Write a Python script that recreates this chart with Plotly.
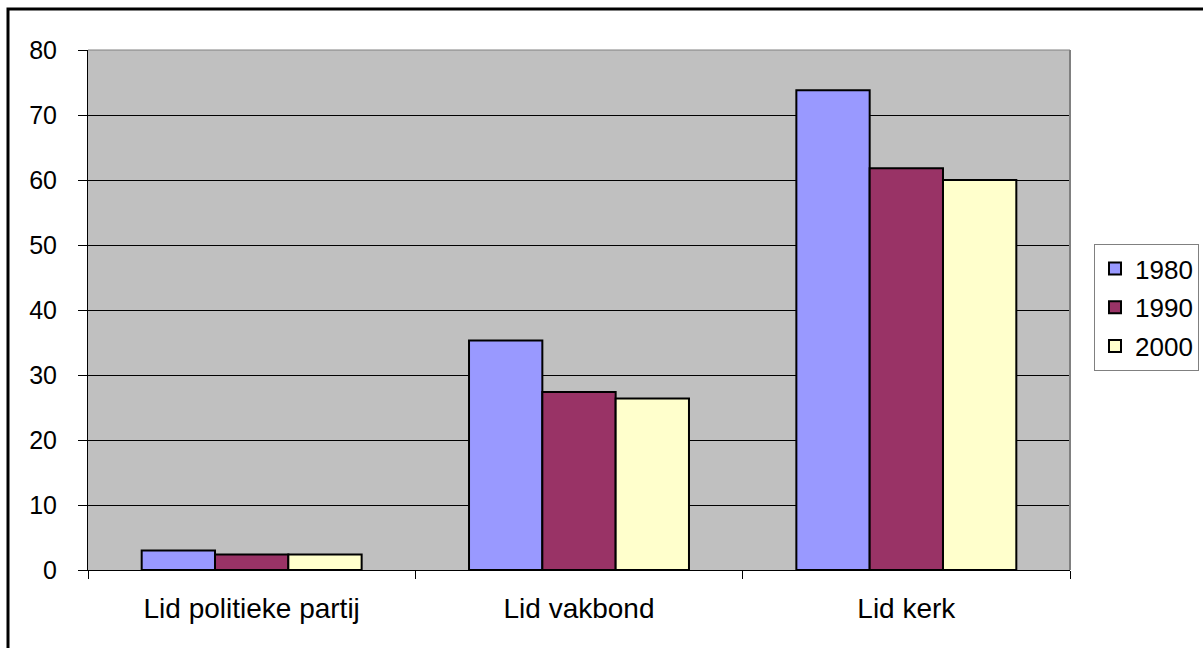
import plotly.graph_objects as go

# Membership shares (%) by organisation type and survey year
categories = ["Lid politieke partij", "Lid vakbond", "Lid kerk"]
years = ["1980", "1990", "2000"]
values_1980 = [3.0, 35.3, 73.8]
values_1990 = [2.4, 27.4, 61.8]
values_2000 = [2.4, 26.4, 60.0]
y_ticks = [0, 10, 20, 30, 40, 50, 60, 70, 80]

series = [values_1980, values_1990, values_2000]
colors = ["#9999FF", "#993366", "#FFFFCC"]

FONT = "Liberation Sans, Arial, sans-serif"

fig = go.Figure()
for year, vals, col in zip(years, series, colors):
    fig.add_trace(go.Bar(
        name=year, x=categories, y=vals,
        marker=dict(color=col, line=dict(color="black", width=2)),
        legendgroup=year,
    ))

W, H = 1203, 648
ml, mr, mt, mb = 88, 133, 50, 78
pw, ph = W - ml - mr, H - mt - mb

def px_x(x):
    return (x - ml) / pw

def px_y(y):
    return (H - mb - y) / ph

fig.update_layout(
    width=W, height=H,
    margin=dict(l=ml, r=mr, t=mt, b=mb, autoexpand=False),
    paper_bgcolor="white",
    plot_bgcolor="#C0C0C0",
    barmode="group",
    bargap=0.328,
    bargroupgap=0,
    font=dict(family=FONT, size=25, color="black"),
    legend=dict(
        x=px_x(1094), xanchor="left",
        y=px_y(244), yanchor="top",
        bordercolor="#808080", borderwidth=1,
        bgcolor="white",
        font=dict(size=26),
        tracegroupgap=2,
    ),
    xaxis=dict(
        type="category",
        showgrid=False,
        showline=True, linecolor="black", linewidth=1,
        ticks="outside", tickson="boundaries", ticklen=8, tickcolor="black",
        tickfont=dict(size=28),
        ticklabelstandoff=13,
    ),
    yaxis=dict(
        range=[0, 80],
        tickvals=y_ticks,
        showgrid=True, gridcolor="black", gridwidth=1,
        zeroline=False,
        showline=True, linecolor="black", linewidth=1,
        ticks="outside", ticklen=9, tickcolor="black",
        tickfont=dict(size=25),
        ticklabelstandoff=16,
    ),
    shapes=[
        # plot-area frame on top and right
        dict(type="line", xref="paper", yref="paper", x0=0, x1=1, y0=1, y1=1,
             line=dict(color="#808080", width=1)),
        dict(type="line", xref="paper", yref="paper", x0=1, x1=1, y0=0, y1=1,
             line=dict(color="#808080", width=2)),
        # outer chart border
        dict(type="rect", xref="paper", yref="paper",
             x0=px_x(8), x1=px_x(1215), y0=px_y(9), y1=px_y(665),
             line=dict(color="black", width=3), layer="above"),
    ],
)

fig.write_html("out.html")
